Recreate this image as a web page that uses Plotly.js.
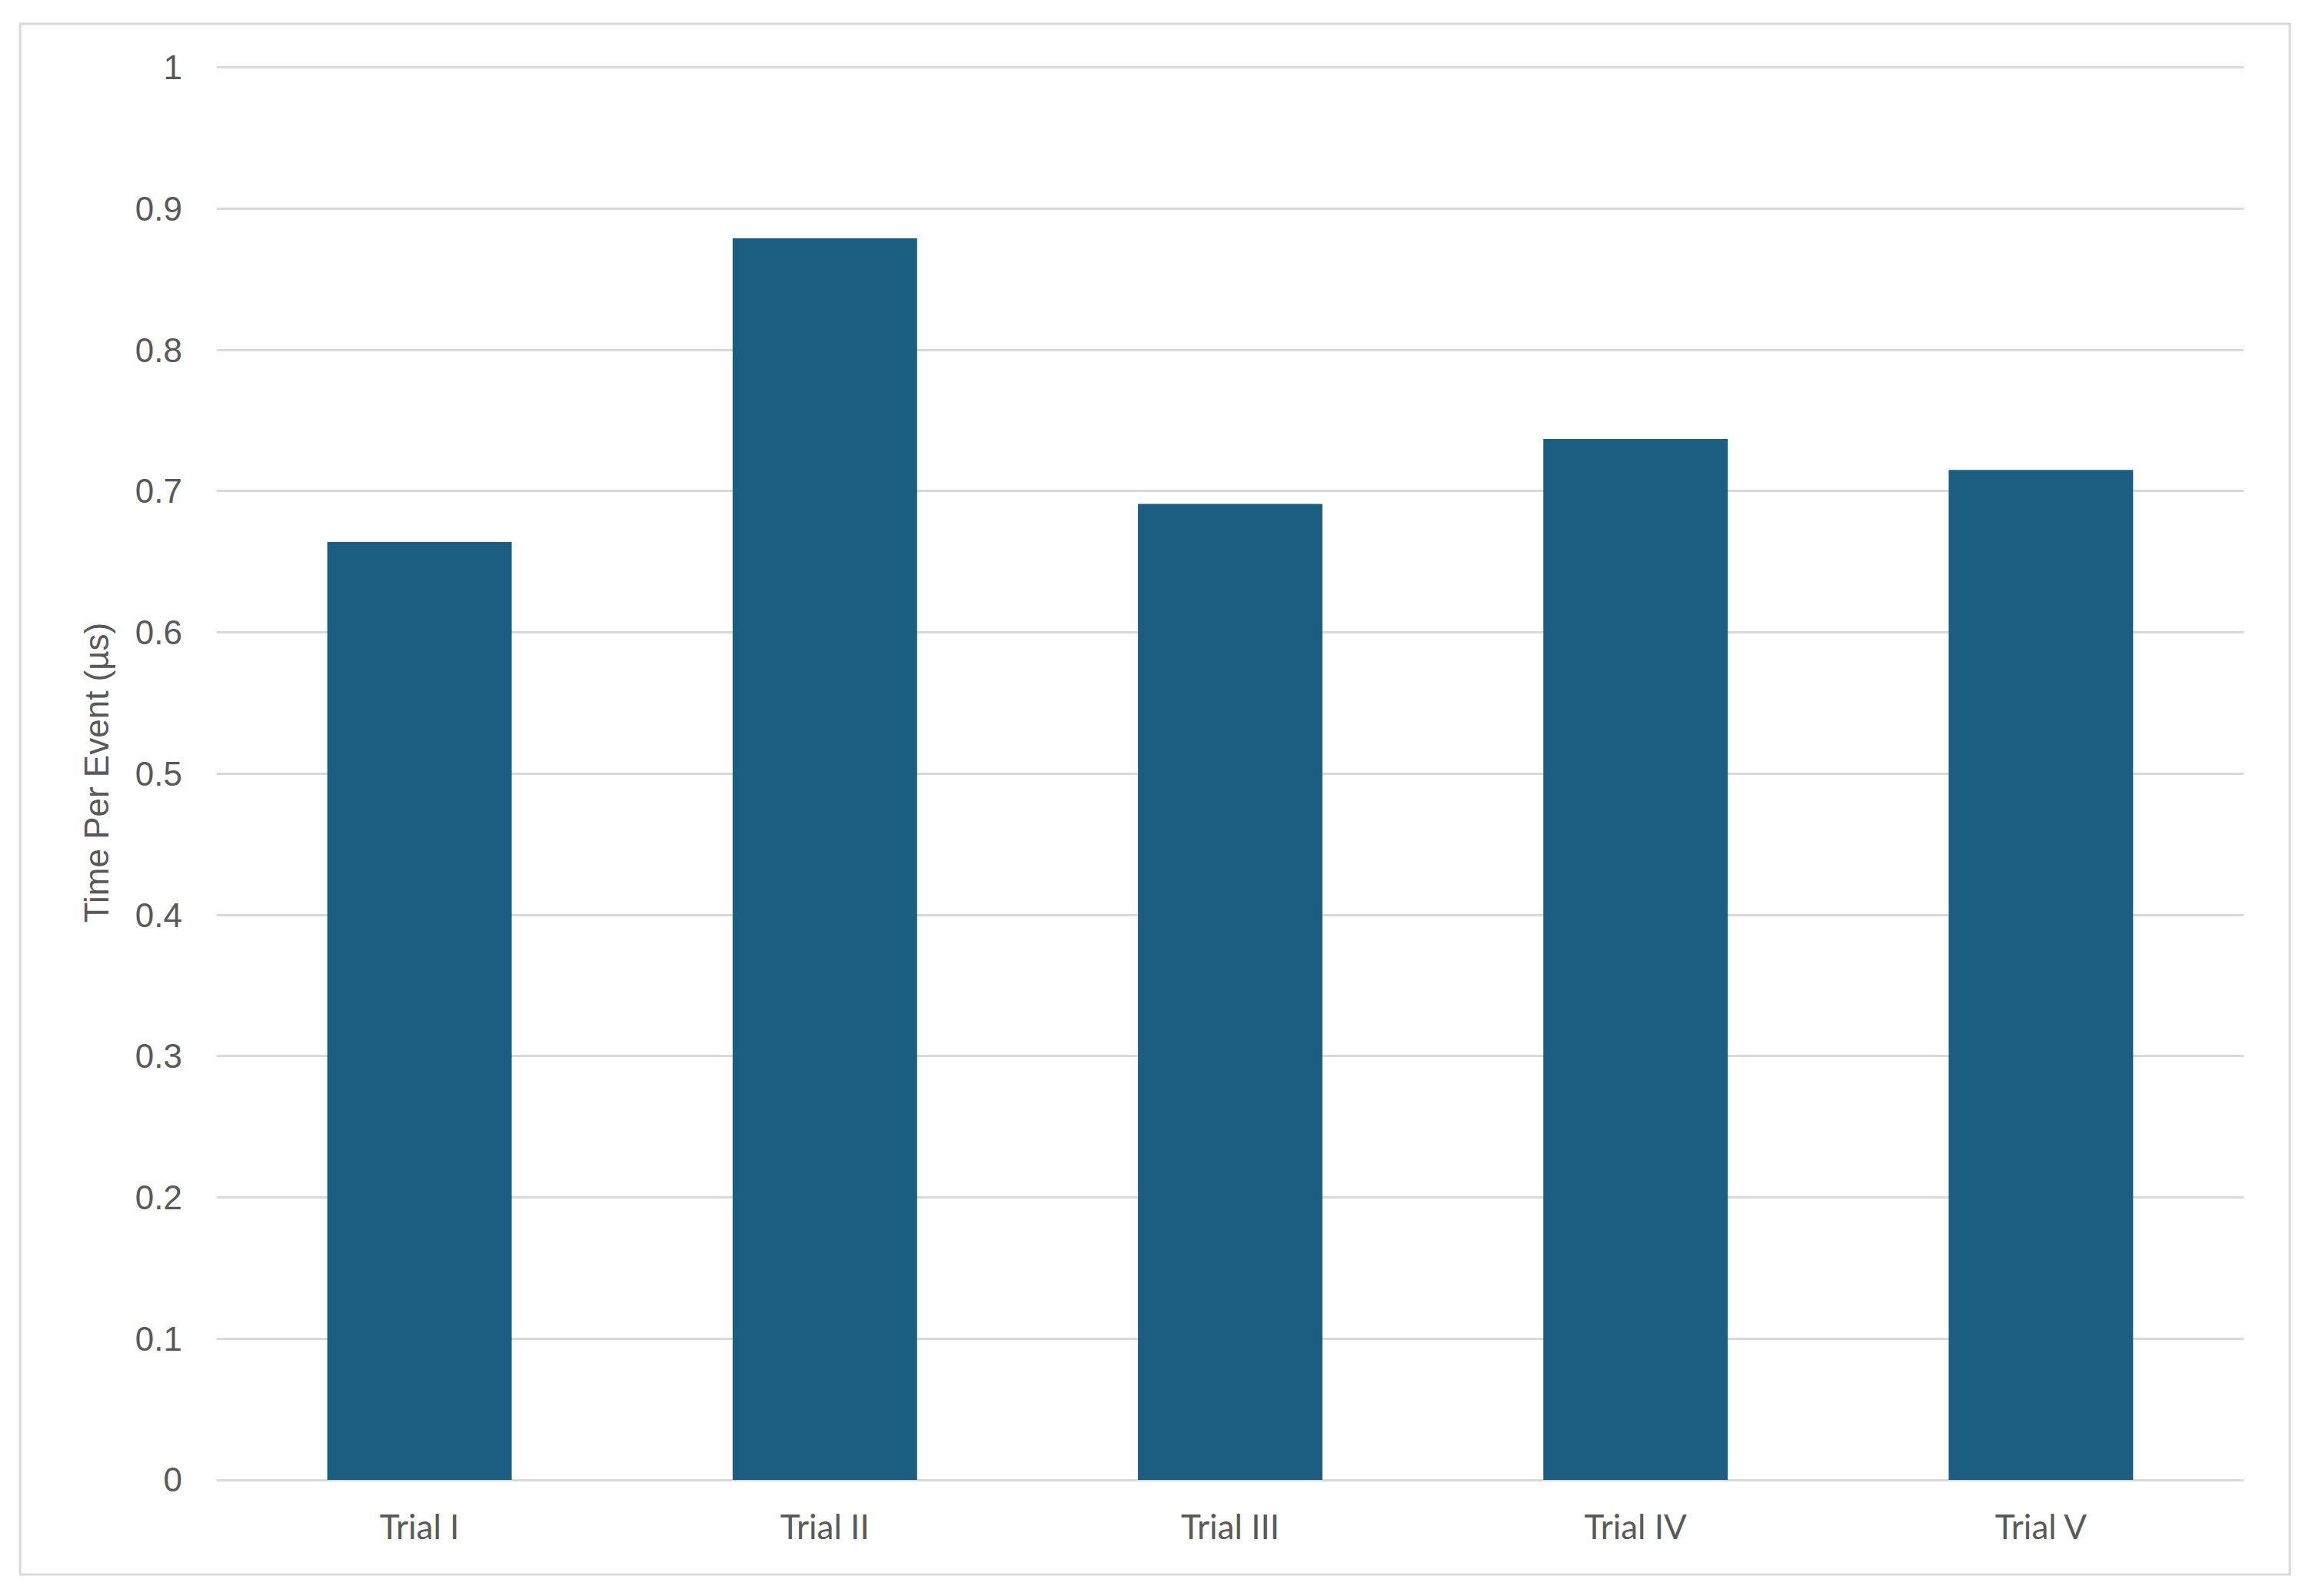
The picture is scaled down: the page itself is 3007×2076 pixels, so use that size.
<!DOCTYPE html>
<html>
<head>
<meta charset="utf-8">
<script src="https://cdn.plot.ly/plotly-3.0.1.min.js"></script>
<style>
  html, body { margin: 0; padding: 0; background: #fff; }
  #chart { width: 3007px; height: 2076px; }
</style>
</head>
<body>
<div id="chart"></div>
<script>
const trials = ["Trial I", "Trial II", "Trial III", "Trial IV", "Trial V"];
const timePerEvent = [0.664, 0.879, 0.691, 0.737, 0.715];
const yTicks = [0, 0.1, 0.2, 0.3, 0.4, 0.5, 0.6, 0.7, 0.8, 0.9, 1];
const yTickText = ["0", "0.1", "0.2", "0.3", "0.4", "0.5", "0.6", "0.7", "0.8", "0.9", "1"];

const grey = "#d9d9d9";
const textGrey = "#595959";

const trace = {
    x: trials,
    y: timePerEvent,
    type: "bar",
    marker: { color: "#1b5e81" },
    hoverinfo: "skip"
};

const layout = {
    width: 3007,
    height: 2076,
    // top margin a little smaller because the range goes slightly past 1
    margin: { l: 282, r: 89, t: 85, b: 151 },
    paper_bgcolor: "#fff",
    plot_bgcolor: "#fff",
    bargap: 0.545,
    showlegend: false,
    xaxis: {
        type: "category",
        showgrid: false,
        showline: false,
        zeroline: false,
        ticks: "",
        ticklabelstandoff: 32,
        tickfont: { family: "Lato, 'Liberation Sans', sans-serif", size: 44, color: textGrey }
    },
    yaxis: {
        range: [0, 1.0015],
        tickvals: yTicks,
        ticktext: yTickText,
        showgrid: true,
        gridcolor: grey,
        gridwidth: 3,
        zeroline: true,
        zerolinecolor: grey,
        zerolinewidth: 3,
        showline: false,
        ticks: "",
        ticklabelstandoff: 44,
        tickfont: { family: "'Liberation Sans', Arial, sans-serif", size: 44, color: textGrey },
        title: {
            text: "Time Per Event (µs)",
            font: { family: "'Liberation Sans', Arial, sans-serif", size: 44, color: textGrey },
            standoff: 20
        }
    },
    shapes: [{
        type: "rect",
        xref: "paper", yref: "paper",
        x0: -0.0971, x1: 1.0228,
        y0: -0.0668, y1: 1.0293,
        line: { color: grey, width: 3 },
        fillcolor: "rgba(0,0,0,0)",
        layer: "below"
    }]
};

Plotly.newPlot("chart", [trace], layout, { displayModeBar: false, staticPlot: true });
</script>
</body>
</html>
